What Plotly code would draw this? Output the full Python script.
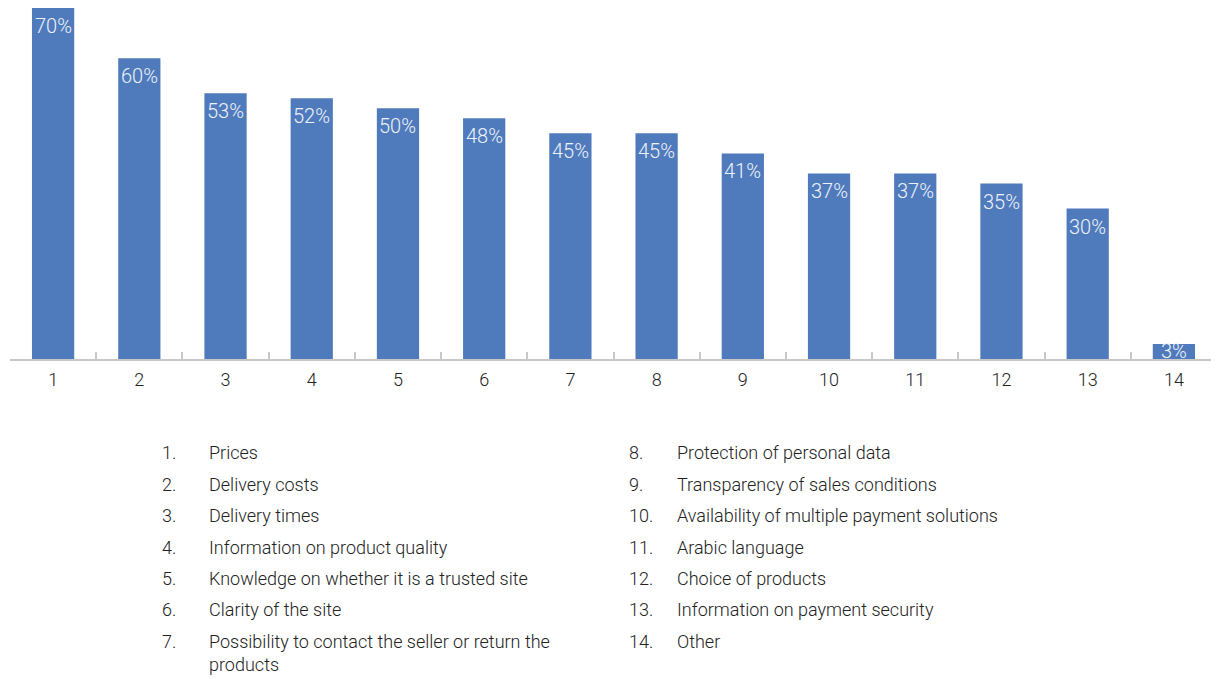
import plotly.graph_objects as go

categories = [str(i) for i in range(1, 15)]
values = [70, 60, 53, 52, 50, 48, 45, 45, 41, 37, 37, 35, 30, 3]
labels = ["Prices", "Delivery costs", "Delivery times", "Information on product quality",
          "Knowledge on whether it is a trusted site", "Clarity of the site",
          "Possibility to contact the seller or return the<br>products",
          "Protection of personal data", "Transparency of sales conditions",
          "Availability of multiple payment solutions", "Arabic language",
          "Choice of products", "Information on payment security", "Other"]

OFF = 8  # default page body margin
W, H = 1219 - OFF, 679 - OFF
L, R, T, B = 10 - OFF, 2, 8 - OFF, 320
FONT = "Roboto"
plot_w = W - L - R
plot_h = H - T - B
YMAX = 70

fig = go.Figure()
fig.add_trace(go.Bar(
    x=categories, y=values,
    marker=dict(color="#4F7BBD", line=dict(width=0)),
    width=0.49,
    hoverinfo="skip",
))

def px_x(xp):
    return (xp - OFF - L) / plot_w

def px_y(yp):
    return (T + plot_h - (yp - OFF)) / plot_h

annots = []
# value labels near the top of each bar (x given as category index)
for idx, v in enumerate(values):
    bar_px = v / YMAX * plot_h
    if bar_px < 36:
        annots.append(dict(x=idx, y=v / 2, xref="x", yref="y", text=f"{v}%", showarrow=False,
                           yanchor="middle", xanchor="center",
                           font=dict(family=FONT, size=20, color="#EEF2F8", weight=300)))
    else:
        annots.append(dict(x=idx, y=v, xref="x", yref="y", text=f"{v}%", showarrow=False,
                           yanchor="middle", xanchor="center", yshift=-18,
                           font=dict(family=FONT, size=20, color="#EEF2F8", weight=300)))

row_y = [452, 484, 515, 547, 578, 609, 641]
for i, lab in enumerate(labels):
    col = i // 7
    r = i % 7
    numy = row_y[r]
    ty = 653 if i == 6 else row_y[r]
    nx = 160 if col == 0 else 627
    tx = 207 if col == 0 else 675
    annots.append(dict(x=px_x(nx), y=px_y(numy), xref="paper", yref="paper",
                       text=f"{i+1}.", showarrow=False, xanchor="left", yanchor="middle",
                       font=dict(family=FONT, size=18, color="#222222", weight=300)))
    annots.append(dict(x=px_x(tx), y=px_y(ty), xref="paper", yref="paper",
                       text=lab, showarrow=False, xanchor="left", yanchor="middle",
                       align="left",
                       font=dict(family=FONT, size=18, color="#222222", weight=300)))

fig.update_layout(
    width=W, height=H,
    margin=dict(l=L, r=R, t=T, b=B),
    plot_bgcolor="white", paper_bgcolor="white",
    showlegend=False,
    annotations=annots,
    xaxis=dict(type="category", categoryorder="array", categoryarray=categories,
               range=[-0.5, len(categories) - 0.5],
               showline=True, linecolor="#C8C8C8", linewidth=2,
               ticks="inside", tickson="boundaries", ticklen=7, tickcolor="#C8C8C8", tickwidth=2,
               ticklabelstandoff=3,
               tickfont=dict(family=FONT, size=18, color="#222222", weight=300),
               showgrid=False, zeroline=False, fixedrange=True),
    yaxis=dict(range=[0, YMAX], visible=False, showgrid=False, zeroline=False, fixedrange=True),
)

fig.write_html("out.html")
